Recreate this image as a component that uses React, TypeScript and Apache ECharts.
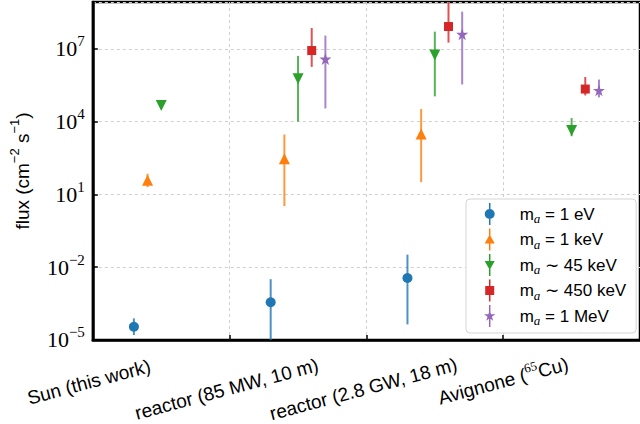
import React, { useEffect, useRef } from "react";
import * as echarts from "echarts";

// Sources along the horizontal axis
const sources = [
  "Sun (this work)",
  "reactor (85 MW, 10 m)",
  "reactor (2.8 GW, 18 m)",
  "Avignone (65Cu)",
];

// Axion mass hypotheses
const massValues = ["1 eV", "1 keV", "45 keV", "450 keV", "1 MeV"];
const massRelations = ["=", "=", "∼", "∼", "="];

// Flux (cm^-2 s^-1) per source, with lower / upper ends of the error bars
const flux1eV = [3.5e-5, 3.6e-4, 3.6e-3, null];
const low1eV = [1.6e-5, 1.0e-6, 4.4e-5, null];
const high1eV = [7.8e-5, 3.2e-3, 3.3e-2, null];

const flux1keV = [38, 295, 3100, null];
const low1keV = [20, 3.3, 32, null];
const high1keV = [71, 2950, 33000, null];

const flux45keV = [4.6e4, 5.9e5, 5.6e6, 4.3e3];
const low45keV = [4.6e4, 1.0e4, 1.1e5, 2.5e3];
const high45keV = [4.6e4, 5.1e6, 5.1e7, 1.4e4];

const flux450keV = [null, 8.5e6, 8.3e7, 2.2e5];
const low450keV = [null, 1.8e6, 1.8e7, 1.2e5];
const high450keV = [null, 7.2e7, 3.0e9, 6.9e5];

const flux1MeV = [null, 3.8e6, 4.0e7, 1.95e5];
const low1MeV = [null, 3.5e4, 3.4e5, 1.0e5];
const high1MeV = [null, 3.5e7, 3.4e8, 5.4e5];

const fluxes = [flux1eV, flux1keV, flux45keV, flux450keV, flux1MeV];
const lows = [low1eV, low1keV, low45keV, low450keV, low1MeV];
const highs = [high1eV, high1keV, high45keV, high450keV, high1MeV];

// Styling
const colors = ["#1f77b4", "#ff7f0e", "#2ca02c", "#d62728", "#9467bd"];
const offsets = [0.3, 0.4, 0.5, 0.6, 0.7];
const SANS = "Liberation Sans";
const SERIF = "Liberation Serif";

function starPath(cx: number, cy: number, R: number, r: number) {
  let d = "";
  for (let k = 0; k < 10; k++) {
    const a = ((-90 + k * 36) * Math.PI) / 180;
    const rad = k % 2 ? r : R;
    d += (k ? "L" : "M") + (cx + rad * Math.cos(a)).toFixed(2) + "," + (cy + rad * Math.sin(a)).toFixed(2);
  }
  return d + "Z";
}

const STAR = "path://" + starPath(10, 10, 10, 3.82);
const symbols = ["circle", "triangle", "triangle", "rect", STAR];
const symbolRotates = [0, 0, 180, 0, 0];
const symbolSizes = [10, 11, 11, 9, 12];

// Legend glyphs: marker with the error-bar stroke through it
const BAR = "M6.25,0L7.75,0L7.75,22L6.25,22Z";
const legendIcons = [
  "path://" + BAR + "M12,11A5,5 0 1,1 2,11A5,5 0 1,1 12,11Z",
  "path://" + BAR + "M7,6L12,15L2,15Z",
  "path://" + BAR + "M2,7L12,7L7,16Z",
  "path://" + BAR + "M2.5,6.5L11.5,6.5L11.5,15.5L2.5,15.5Z",
  "path://" + BAR + starPath(7, 11, 6, 2.3),
];

const names = massValues.map((m, i) => `m_a ${massRelations[i]} ${m}`);

function sourceLabel(v: number) {
  const s = sources[v];
  if (s === undefined) return "";
  if (s.includes("(65")) return s.replace("(65", "({sup|65}");
  return s.length > 18 ? `{long|${s}}` : `{short|${s}}`;
}

function powerLabel(v: number) {
  const e = Math.round(Math.log10(v));
  return `{b|10}{sup|${e < 0 ? "−" + -e : e}}`;
}

export default function App() {
  const ref = useRef<HTMLDivElement>(null);

  useEffect(() => {
    if (!ref.current) return;
    const chart = echarts.init(ref.current, undefined, { renderer: "svg" });

    const series: any[] = [];
    names.forEach((name, k) => {
      const pts: number[][] = [];
      const bars: number[][] = [];
      fluxes[k].forEach((v, i) => {
        if (v == null) return;
        pts.push([i + offsets[k], v]);
        const lo = lows[k][i];
        const hi = highs[k][i];
        if (lo != null && hi != null && hi > lo) bars.push([i + offsets[k], lo, hi]);
      });
      series.push({
        name,
        type: "custom",
        clip: true,
        z: 2,
        data: bars,
        encode: { x: 0, y: [1, 2] },
        renderItem: (params: any, api: any) => {
          const x = api.value(0);
          const p1 = api.coord([x, api.value(1)]);
          const p2 = api.coord([x, api.value(2)]);
          return {
            type: "line",
            shape: { x1: p1[0], y1: p1[1], x2: p2[0], y2: p2[1] },
            style: { stroke: colors[k], lineWidth: 2, opacity: 0.8 },
          };
        },
      });
      series.push({
        name,
        type: "scatter",
        z: 3,
        data: pts,
        symbol: symbols[k],
        symbolRotate: symbolRotates[k],
        symbolSize: symbolSizes[k],
        itemStyle: { color: colors[k], opacity: 1 },
      });
    });

    chart.setOption({
      animation: false,
      grid: {
        left: 88,
        right: -3,
        top: 2,
        bottom: 83,
        show: true,
        borderColor: "#000",
        borderWidth: 2.5,
      },
      xAxis: {
        type: "value",
        min: 0,
        max: 4,
        interval: 1,
        axisLine: { show: true, onZero: false, lineStyle: { color: "#000", width: 2.5 } },
        axisTick: { show: true, inside: true, length: 5, lineStyle: { color: "#000", width: 1.5 } },
        splitLine: { show: true, lineStyle: { color: "#cfcfcf", type: [3, 3], width: 1 } },
        axisLabel: {
          rotate: 15,
          align: "center",
          verticalAlign: "middle",
          margin: 41,
          showMaxLabel: false,
          color: "#000",
          fontFamily: SANS,
          fontSize: 19,
          formatter: (v: number) => sourceLabel(v),
          rich: {
            sup: { fontFamily: SERIF, fontSize: 13, verticalAlign: "top", lineHeight: 26 },
            short: { fontFamily: SANS, fontSize: 19, padding: [0, 8, 0, 0] },
            long: { fontFamily: SANS, fontSize: 19, padding: [14, 10, 0, 0] },
          },
        },
      },
      yAxis: {
        type: "log",
        logBase: 10,
        min: 1e-5,
        max: Math.pow(10, 8.93),
        interval: 3,
        name: "flux (cm{sup|−2} s{sup|−1})",
        nameLocation: "middle",
        nameRotate: 90,
        nameGap: 55,
        nameTextStyle: {
          fontFamily: SANS,
          fontSize: 19,
          color: "#000",
          lineHeight: 28,
          rich: { sup: { fontFamily: SANS, fontSize: 13, verticalAlign: "top" } },
        },
        axisLine: { show: true, onZero: false, lineStyle: { color: "#000", width: 2.5 } },
        axisTick: { show: true, inside: true, length: 5, lineStyle: { color: "#000", width: 1.5 } },
        minorTick: { show: false },
        splitLine: { show: true, lineStyle: { color: "#cfcfcf", type: [3, 3], width: 1 } },
        axisLabel: {
          showMaxLabel: false,
          margin: 8,
          color: "#000",
          formatter: (v: number) => powerLabel(v),
          rich: {
            b: { fontFamily: SERIF, fontSize: 22, lineHeight: 30, color: "#000" },
            sup: { fontFamily: SERIF, fontSize: 15, verticalAlign: "top", color: "#000" },
          },
        },
      },
      legend: {
        orient: "vertical",
        left: 466,
        top: 199,
        padding: [4, 10, 6, 18],
        itemWidth: 14,
        itemHeight: 22,
        itemGap: 3.5,
        backgroundColor: "#fff",
        borderColor: "#d5d5d5",
        borderWidth: 1,
        borderRadius: 4,
        data: names.map((n, k) => ({ name: n, icon: legendIcons[k], itemStyle: { color: colors[k] } })),
        formatter: (n: string) => {
          const k = names.indexOf(n);
          return `m{sub|a} ${massRelations[k]} ${massValues[k]}`;
        },
        textStyle: {
          fontFamily: SANS,
          fontSize: 17,
          color: "#000",
          lineHeight: 22,
          padding: [0, 0, 0, 18],
          rich: {
            sub: { fontFamily: SERIF, fontStyle: "italic", fontSize: 13, verticalAlign: "bottom", lineHeight: 20 },
          },
        },
      },
      series,
    });

    return () => chart.dispose();
  }, []);

  return (
    <div
      ref={ref}
      style={{ position: "fixed", left: 0, top: 0, width: 640, height: 424, background: "#fff" }}
    />
  );
}
